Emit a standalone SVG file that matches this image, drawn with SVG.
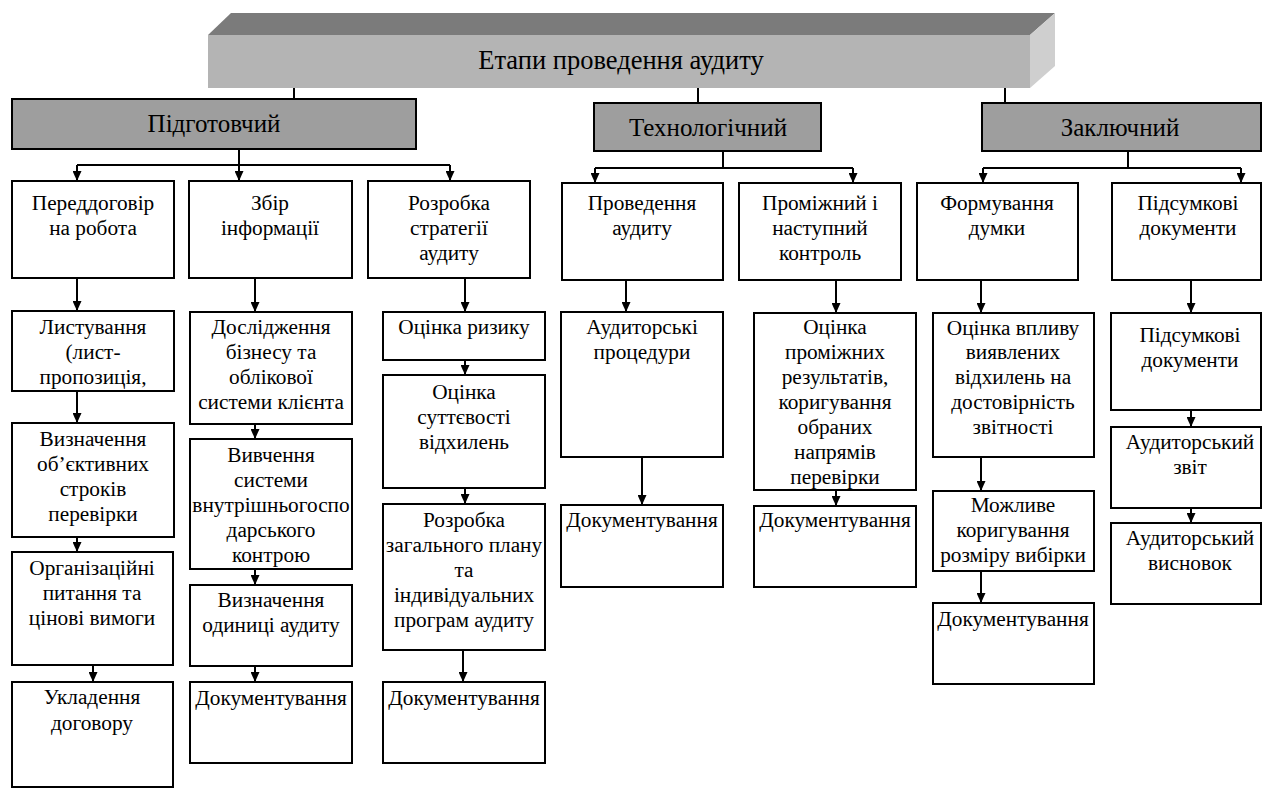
<svg xmlns="http://www.w3.org/2000/svg" width="1263" height="789" viewBox="0 0 1263 789">
<style>
.box{fill:#fff;stroke:#000;stroke-width:2}
.l2{fill:#9e9e9e;stroke:#000;stroke-width:2}
.t{font-family:'Liberation Serif','Times New Roman','DejaVu Serif',serif;font-size:21.3px;text-anchor:middle;fill:#000}
.t2{font-family:'Liberation Serif','Times New Roman','DejaVu Serif',serif;font-size:25px;text-anchor:middle;fill:#000}
.t1{font-family:'Liberation Serif','Times New Roman','DejaVu Serif',serif;font-size:26.5px;text-anchor:middle;fill:#000}
.c{stroke:#000;stroke-width:2;fill:none}
.a{stroke:#000;stroke-width:2;fill:none;marker-end:url(#ah)}
</style>
<defs>
<marker id="ah" viewBox="0 0 10 9" markerWidth="10" markerHeight="9" refX="10" refY="4.5" orient="auto" markerUnits="userSpaceOnUse">
<path d="M0,0 L10,4.5 L0,9 z" fill="#000"/>
</marker>
</defs>
<rect width="1263" height="789" fill="#fff"/>

<g id="connectors">
<path class="c" d="M294,88 V99 M698,88 V103 M1005,88 V103"/>
<path class="c" d="M239,149 V165 M77,165 H450 M723,151 V168 M595,168 H853 M1128,151 V168 M983,168 H1241"/>
<path class="a" d="M77,165 V181"/>
<path class="a" d="M239,149 V181"/>
<path class="a" d="M450,165 V181"/>
<path class="a" d="M595,168 V183"/>
<path class="a" d="M853,168 V183"/>
<path class="a" d="M983,168 V183"/>
<path class="a" d="M1241,168 V183"/>
<path class="a" d="M77,278 V311"/>
<path class="a" d="M77,391 V423"/>
<path class="a" d="M77,537 V552"/>
<path class="a" d="M93,665 V682"/>
<path class="a" d="M255,278 V312"/>
<path class="a" d="M255,424 V439"/>
<path class="a" d="M255,569 V585"/>
<path class="a" d="M255,666 V682"/>
<path class="a" d="M465,278 V312"/>
<path class="a" d="M465,360 V375"/>
<path class="a" d="M465,488 V504"/>
<path class="a" d="M463,650 V682"/>
<path class="a" d="M626,280 V312"/>
<path class="a" d="M642,457 V505"/>
<path class="a" d="M836,280 V313"/>
<path class="a" d="M836,490 V506"/>
<path class="a" d="M981,280 V313"/>
<path class="a" d="M981,457 V491"/>
<path class="a" d="M981,571 V603"/>
<path class="a" d="M1191,280 V313"/>
<path class="a" d="M1191,410 V427"/>
<path class="a" d="M1191,508 V523"/>
</g>

<g id="banner">
<polygon points="208,35 231,13 1055,13 1030,35" fill="#7b7b7b"/>
<rect x="208" y="35" width="822" height="53" fill="#b4b4b4"/>
<polygon points="1030,35 1055,13 1055,66 1030,88" fill="#cfcfcf"/>
<text class="t1" x="621" y="69">Етапи проведення аудиту</text>
</g>

<g id="pidgotovchyi"><rect class="l2" x="12" y="99" width="404" height="50"/><text class="t2" x="214" y="132">Підготовчий</text></g>
<g id="tekhnolohichnyi"><rect class="l2" x="594" y="103" width="227" height="48"/><text class="t2" x="708" y="136">Технологічний</text></g>
<g id="zakliuchnyi"><rect class="l2" x="982" y="103" width="279" height="48"/><text class="t2" x="1120" y="136">Заключний</text></g>

<g id="peredd"><rect class="box" x="12" y="181" width="162" height="97"/><text class="t" x="93" y="210">Переддоговір</text><text class="t" x="93" y="235">на робота</text></g>
<g id="zbir"><rect class="box" x="189" y="181" width="163" height="97"/><text class="t" x="270" y="210">Збір</text><text class="t" x="270" y="235">інформації</text></g>
<g id="rozrobka-strat"><rect class="box" x="368" y="181" width="162" height="97"/><text class="t" x="449" y="210">Розробка</text><text class="t" x="449" y="235">стратегії</text><text class="t" x="449" y="260">аудиту</text></g>
<g id="provedennia"><rect class="box" x="562" y="183" width="161" height="97"/><text class="t" x="642" y="210">Проведення</text><text class="t" x="642" y="235">аудиту</text></g>
<g id="promizhnyi"><rect class="box" x="739" y="183" width="162" height="97"/><text class="t" x="820" y="210">Проміжний і</text><text class="t" x="820" y="235">наступний</text><text class="t" x="820" y="260">контроль</text></g>
<g id="formuvannia"><rect class="box" x="917" y="183" width="161" height="97"/><text class="t" x="997" y="210">Формування</text><text class="t" x="997" y="235">думки</text></g>
<g id="pidsumkovi"><rect class="box" x="1112" y="183" width="149" height="97"/><text class="t" x="1188" y="210">Підсумкові</text><text class="t" x="1188" y="235">документи</text></g>

<g id="lystuvannia"><rect class="box" x="12" y="311" width="162" height="80"/><text class="t" x="93" y="334">Листування</text><text class="t" x="93" y="359">(лист-</text><text class="t" x="93" y="384">пропозиція,</text></g>
<g id="vyznachennia-strokiv"><rect class="box" x="12" y="423" width="162" height="114"/><text class="t" x="93" y="446">Визначення</text><text class="t" x="93" y="471">об’єктивних</text><text class="t" x="93" y="496">строків</text><text class="t" x="93" y="521">перевірки</text></g>
<g id="orhanizatsiini"><rect class="box" x="12" y="552" width="161" height="113"/><text class="t" x="92" y="575">Організаційні</text><text class="t" x="92" y="600">питання та</text><text class="t" x="92" y="625">цінові вимоги</text></g>
<g id="ukladennia"><rect class="box" x="12" y="682" width="161" height="105"/><text class="t" x="92" y="704">Укладення</text><text class="t" x="92" y="730">договору</text></g>

<g id="doslidzhennia"><rect class="box" x="190" y="312" width="162" height="112"/><text class="t" x="271" y="334">Дослідження</text><text class="t" x="271" y="359">бізнесу та</text><text class="t" x="271" y="384">облікової</text><text class="t" x="271" y="409">системи клієнта</text></g>
<g id="vyvchennia"><rect class="box" x="190" y="439" width="162" height="130"/><text class="t" x="271" y="462">Вивчення</text><text class="t" x="271" y="487">системи</text><text class="t" x="271" y="512">внутрішньогоспо</text><text class="t" x="271" y="537">дарського</text><text class="t" x="271" y="562">контрою</text></g>
<g id="vyznachennia-odynytsi"><rect class="box" x="190" y="585" width="162" height="81"/><text class="t" x="271" y="607">Визначення</text><text class="t" x="271" y="632">одиниці аудиту</text></g>
<g id="dok1"><rect class="box" x="190" y="682" width="162" height="81"/><text class="t" x="271" y="705">Документування</text></g>

<g id="otsinka-ryzyku"><rect class="box" x="383" y="312" width="162" height="48"/><text class="t" x="464" y="334">Оцінка ризику</text></g>
<g id="otsinka-suttievosti"><rect class="box" x="383" y="375" width="162" height="113"/><text class="t" x="464" y="399">Оцінка</text><text class="t" x="464" y="424">суттєвості</text><text class="t" x="464" y="449">відхилень</text></g>
<g id="rozrobka-planu"><rect class="box" x="383" y="504" width="162" height="146"/><text class="t" x="464" y="527">Розробка</text><text class="t" x="464" y="552">загального плану</text><text class="t" x="464" y="577">та</text><text class="t" x="464" y="602">індивідуальних</text><text class="t" x="464" y="627">програм аудиту</text></g>
<g id="dok2"><rect class="box" x="383" y="682" width="162" height="81"/><text class="t" x="464" y="705">Документування</text></g>

<g id="audytorski-protsedury"><rect class="box" x="561" y="312" width="162" height="145"/><text class="t" x="642" y="334">Аудиторські</text><text class="t" x="642" y="359">процедури</text></g>
<g id="dok3"><rect class="box" x="561" y="505" width="162" height="82"/><text class="t" x="642" y="527">Документування</text></g>

<g id="otsinka-promizhnykh"><rect class="box" x="754" y="313" width="162" height="177"/><text class="t" x="835" y="334">Оцінка</text><text class="t" x="835" y="359">проміжних</text><text class="t" x="835" y="384">результатів,</text><text class="t" x="835" y="409">коригування</text><text class="t" x="835" y="434">обраних</text><text class="t" x="835" y="459">напрямів</text><text class="t" x="835" y="484">перевірки</text></g>
<g id="dok4"><rect class="box" x="754" y="506" width="162" height="81"/><text class="t" x="835" y="527">Документування</text></g>

<g id="otsinka-vplyvu"><rect class="box" x="933" y="313" width="161" height="144"/><text class="t" x="1013" y="335">Оцінка впливу</text><text class="t" x="1013" y="359">виявлених</text><text class="t" x="1013" y="384">відхилень на</text><text class="t" x="1013" y="409">достовірність</text><text class="t" x="1013" y="434">звітності</text></g>
<g id="mozhlyve"><rect class="box" x="933" y="491" width="161" height="80"/><text class="t" x="1013" y="512">Можливе</text><text class="t" x="1013" y="537">коригування</text><text class="t" x="1013" y="562">розміру вибірки</text></g>
<g id="dok5"><rect class="box" x="933" y="603" width="161" height="81"/><text class="t" x="1013" y="626">Документування</text></g>

<g id="pidsumkovi-dok"><rect class="box" x="1111" y="313" width="150" height="97"/><text class="t" x="1190" y="342">Підсумкові</text><text class="t" x="1190" y="367">документи</text></g>
<g id="zvit"><rect class="box" x="1111" y="427" width="150" height="81"/><text class="t" x="1190" y="449">Аудиторський</text><text class="t" x="1190" y="474">звіт</text></g>
<g id="vysnovok"><rect class="box" x="1111" y="523" width="150" height="81"/><text class="t" x="1190" y="545">Аудиторський</text><text class="t" x="1190" y="570">висновок</text></g>
</svg>
